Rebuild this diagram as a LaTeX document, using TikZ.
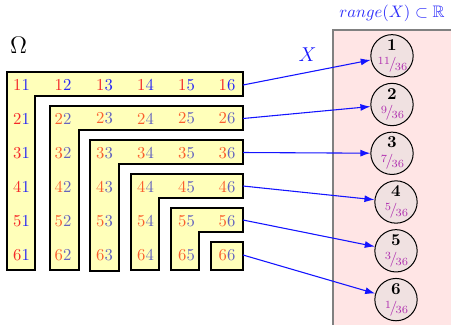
\documentclass[tikz,border=0pt]{standalone}
\usepackage{amssymb}
\usetikzlibrary{arrows.meta}

\definecolor{cellfill}{RGB}{255,255,186}
\definecolor{rangefill}{RGB}{255,229,229}
\definecolor{valfill}{RGB}{240,225,225}
\definecolor{redA}{RGB}{245,40,40}
\definecolor{blueA}{RGB}{40,40,245}
\definecolor{redB}{RGB}{250,95,45}
\definecolor{blueB}{RGB}{100,100,190}
\definecolor{probcol}{RGB}{175,45,175}
\definecolor{mapblue}{RGB}{20,20,255}
\definecolor{rangeblue}{RGB}{45,45,250}

% small slanted fraction: raised numerator / lowered denominator
\newcommand{\nfr}[2]{%
  \raisebox{0.5ex}{\fontsize{6.6}{7}\selectfont#1}\kern-0.08em
  {\fontsize{9}{10}\selectfont/}\kern-0.1em
  \raisebox{-0.25ex}{\fontsize{6.6}{7}\selectfont#2}}

\tikzset{
  lbox/.style={draw=black, fill=cellfill, line width=0.65pt, line join=miter},
  cell/.style={inner sep=0pt, font=\normalsize},
  rangebox/.style={draw=black!50, fill=rangefill, line width=1.2pt},
  valcirc/.style={circle, draw=black, fill=valfill, line width=0.6pt,
                  minimum size=25.4pt, inner sep=0pt},
  valnum/.style={inner sep=0pt, font=\normalsize\bfseries},
  valprob/.style={inner sep=0pt, text=probcol},
  maparrow/.style={draw=mapblue, line width=0.65pt,
                   -{Latex[length=6pt,width=4.2pt]}},
}

\begin{document}
\begin{tikzpicture}[x=0.6pt, y=-0.6pt]
\useasboundingbox (0,0) rectangle (451,324);

% sample space label
\node[inner sep=0pt, font=\Large] (omega) at (18.5,45) {$\Omega$};

% nested L-shaped blocks of outcomes
\path[lbox] (7,72) -- (243,72) -- (243,96) -- (35,96) -- (35,270) -- (7,270) -- cycle;
\path[lbox] (50,106) -- (243,106) -- (243,130) -- (79,130) -- (79,270) -- (50,270) -- cycle;
\path[lbox] (90,140) -- (243,140) -- (243,164) -- (119,164) -- (119,271) -- (90,271) -- cycle;
\path[lbox] (131,174) -- (243,174) -- (243,198) -- (159,198) -- (159,270) -- (131,270) -- cycle;
\path[lbox] (171,208) -- (243,208) -- (243,232) -- (199,232) -- (199,270) -- (171,270) -- cycle;
\path[lbox] (211,242) -- (243,242) -- (243,270) -- (211,270) -- cycle;

% outcomes (first die red, second die blue)
\foreach \r/\y in {1/85,2/118.5,3/153,4/187,5/221,6/255} {
  \foreach \c/\x in {1/21.5,2/63,3/104.5,4/145.5,5/186.5,6/227} {
    \pgfmathtruncatemacro{\m}{min(\r,\c)}
    \ifnum\m=1 \def\ca{redA}\def\cb{blueA}\else\def\ca{redB}\def\cb{blueB}\fi
    \node[cell] (n\r\c) at (\x,\y) {\textcolor{\ca}{\r}\textcolor{\cb}{\c}};
  }
}

% range of the random variable
\path[rangebox] (333,30) rectangle (470,340);
\node[inner sep=0pt, text=rangeblue] (range) at (392,13.5) {$range(X)\subset\mathbb{R}$};

\foreach \i/\cx/\cy/\p in {1/392/55.8/11, 2/392/104.5/9, 3/392/153.3/7,
                           4/396/202/5, 5/396/250.8/3, 6/396/299.6/1} {
  \node[valcirc] (c\i) at (\cx,\cy) {};
  \node[valnum] (v\i) at (\cx,\cy-10.8) {\i};
  \node[valprob] (p\i) at (\cx+0.5,\cy+8.7) {\nfr{\p}{36}};
}

% mapping X
\foreach \i/\ry in {1/85,2/118.5,3/152.5,4/186,5/220,6/255} {
  \coordinate (e\i) at (243,\ry);
  \draw[maparrow] (e\i) -- (c\i);
}
\node[inner sep=0pt, text=mapblue, font=\large] (xlab) at (307.5,55) {$X$};
\end{tikzpicture}
\end{document}
